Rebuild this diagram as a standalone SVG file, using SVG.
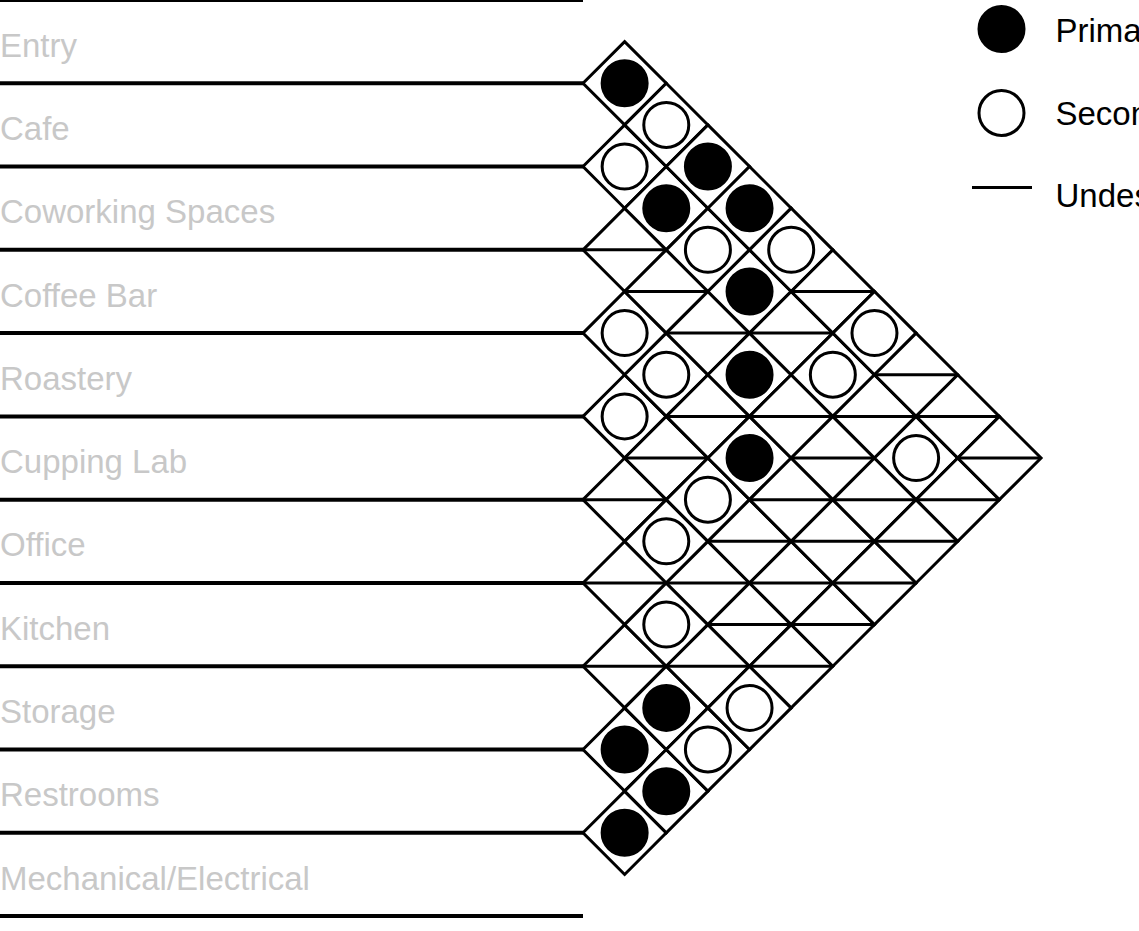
<svg xmlns="http://www.w3.org/2000/svg" width="1139" height="931" viewBox="0 0 1139 931">
<style>
.lbl{font-family:"Liberation Sans",Arial,sans-serif;font-size:33px;fill:#c8c8c8}
.leg{font-family:"Liberation Sans",Arial,sans-serif;font-size:33px;fill:#000}
.rule{stroke:#000;stroke-width:4}
.dia{fill:#fff;stroke:#000;stroke-width:3;stroke-linejoin:miter}
.p{fill:#000;stroke:#000;stroke-width:3}
.s{fill:#fff;stroke:#000;stroke-width:3}
.u{stroke:#000;stroke-width:3}
</style>
<defs>
<polygon id="cell" class="dia" points="-41.64,0 0,-41.64 41.64,0 0,41.64"/>
<circle id="P" class="p" r="22.5"/>
<circle id="S" class="s" r="22.5"/>
<line id="U" class="u" x1="-41.64" y1="0" x2="41.64" y2="0"/>
</defs>
<rect width="1139" height="931" fill="#fff"/>
<g id="rows">
<g id="row-entry"><line class="rule" x1="0" y1="0" x2="583" y2="0"/><text class="lbl" x="0" y="56.7">Entry</text></g>
<g id="row-cafe"><line class="rule" x1="0" y1="83.28" x2="583" y2="83.28"/><text class="lbl" x="0" y="140">Cafe</text></g>
<g id="row-coworking"><line class="rule" x1="0" y1="166.56" x2="583" y2="166.56"/><text class="lbl" x="0" y="223.3">Coworking Spaces</text></g>
<g id="row-coffeebar"><line class="rule" x1="0" y1="249.84" x2="583" y2="249.84"/><text class="lbl" x="0" y="306.6">Coffee Bar</text></g>
<g id="row-roastery"><line class="rule" x1="0" y1="333.12" x2="583" y2="333.12"/><text class="lbl" x="0" y="389.9">Roastery</text></g>
<g id="row-cupping"><line class="rule" x1="0" y1="416.4" x2="583" y2="416.4"/><text class="lbl" x="0" y="473.1">Cupping Lab</text></g>
<g id="row-office"><line class="rule" x1="0" y1="499.68" x2="583" y2="499.68"/><text class="lbl" x="0" y="556.4">Office</text></g>
<g id="row-kitchen"><line class="rule" x1="0" y1="582.96" x2="583" y2="582.96"/><text class="lbl" x="0" y="639.7">Kitchen</text></g>
<g id="row-storage"><line class="rule" x1="0" y1="666.24" x2="583" y2="666.24"/><text class="lbl" x="0" y="723">Storage</text></g>
<g id="row-restrooms"><line class="rule" x1="0" y1="749.52" x2="583" y2="749.52"/><text class="lbl" x="0" y="806.3">Restrooms</text></g>
<g id="row-mech"><line class="rule" x1="0" y1="832.8" x2="583" y2="832.8"/><text class="lbl" x="0" y="889.5">Mechanical/Electrical</text></g>
<line class="rule" x1="0" y1="916.08" x2="583" y2="916.08"/>
</g>
<g id="matrix">
<g id="c0-1" transform="translate(624.64,83.28)"><use href="#cell"/><use href="#P"/></g>
<g id="c1-2" transform="translate(624.64,166.56)"><use href="#cell"/><use href="#S"/></g>
<g id="c2-3" transform="translate(624.64,249.84)"><use href="#cell"/><use href="#U"/></g>
<g id="c3-4" transform="translate(624.64,333.12)"><use href="#cell"/><use href="#S"/></g>
<g id="c4-5" transform="translate(624.64,416.4)"><use href="#cell"/><use href="#S"/></g>
<g id="c5-6" transform="translate(624.64,499.68)"><use href="#cell"/><use href="#U"/></g>
<g id="c6-7" transform="translate(624.64,582.96)"><use href="#cell"/><use href="#U"/></g>
<g id="c7-8" transform="translate(624.64,666.24)"><use href="#cell"/><use href="#U"/></g>
<g id="c8-9" transform="translate(624.64,749.52)"><use href="#cell"/><use href="#P"/></g>
<g id="c9-10" transform="translate(624.64,832.8)"><use href="#cell"/><use href="#P"/></g>

<g id="c0-2" transform="translate(666.28,124.92)"><use href="#cell"/><use href="#S"/></g>
<g id="c1-3" transform="translate(666.28,208.2)"><use href="#cell"/><use href="#P"/></g>
<g id="c2-4" transform="translate(666.28,291.48)"><use href="#cell"/><use href="#U"/></g>
<g id="c3-5" transform="translate(666.28,374.76)"><use href="#cell"/><use href="#S"/></g>
<g id="c4-6" transform="translate(666.28,458.04)"><use href="#cell"/><use href="#U"/></g>
<g id="c5-7" transform="translate(666.28,541.32)"><use href="#cell"/><use href="#S"/></g>
<g id="c6-8" transform="translate(666.28,624.6)"><use href="#cell"/><use href="#S"/></g>
<g id="c7-9" transform="translate(666.28,707.88)"><use href="#cell"/><use href="#P"/></g>
<g id="c8-10" transform="translate(666.28,791.16)"><use href="#cell"/><use href="#P"/></g>

<g id="c0-3" transform="translate(707.92,166.56)"><use href="#cell"/><use href="#P"/></g>
<g id="c1-4" transform="translate(707.92,249.84)"><use href="#cell"/><use href="#S"/></g>
<g id="c2-5" transform="translate(707.92,333.12)"><use href="#cell"/><use href="#U"/></g>
<g id="c3-6" transform="translate(707.92,416.4)"><use href="#cell"/><use href="#U"/></g>
<g id="c4-7" transform="translate(707.92,499.68)"><use href="#cell"/><use href="#S"/></g>
<g id="c5-8" transform="translate(707.92,582.96)"><use href="#cell"/><use href="#U"/></g>
<g id="c6-9" transform="translate(707.92,666.24)"><use href="#cell"/><use href="#U"/></g>
<g id="c7-10" transform="translate(707.92,749.52)"><use href="#cell"/><use href="#S"/></g>

<g id="c0-4" transform="translate(749.56,208.2)"><use href="#cell"/><use href="#P"/></g>
<g id="c1-5" transform="translate(749.56,291.48)"><use href="#cell"/><use href="#P"/></g>
<g id="c2-6" transform="translate(749.56,374.76)"><use href="#cell"/><use href="#P"/></g>
<g id="c3-7" transform="translate(749.56,458.04)"><use href="#cell"/><use href="#P"/></g>
<g id="c4-8" transform="translate(749.56,541.32)"><use href="#cell"/><use href="#U"/></g>
<g id="c5-9" transform="translate(749.56,624.6)"><use href="#cell"/><use href="#U"/></g>
<g id="c6-10" transform="translate(749.56,707.88)"><use href="#cell"/><use href="#S"/></g>

<g id="c0-5" transform="translate(791.2,249.84)"><use href="#cell"/><use href="#S"/></g>
<g id="c1-6" transform="translate(791.2,333.12)"><use href="#cell"/><use href="#U"/></g>
<g id="c2-7" transform="translate(791.2,416.4)"><use href="#cell"/><use href="#U"/></g>
<g id="c3-8" transform="translate(791.2,499.68)"><use href="#cell"/><use href="#U"/></g>
<g id="c4-9" transform="translate(791.2,582.96)"><use href="#cell"/><use href="#U"/></g>
<g id="c5-10" transform="translate(791.2,666.24)"><use href="#cell"/><use href="#U"/></g>

<g id="c0-6" transform="translate(832.84,291.48)"><use href="#cell"/><use href="#U"/></g>
<g id="c1-7" transform="translate(832.84,374.76)"><use href="#cell"/><use href="#S"/></g>
<g id="c2-8" transform="translate(832.84,458.04)"><use href="#cell"/><use href="#U"/></g>
<g id="c3-9" transform="translate(832.84,541.32)"><use href="#cell"/><use href="#U"/></g>
<g id="c4-10" transform="translate(832.84,624.6)"><use href="#cell"/><use href="#U"/></g>

<g id="c0-7" transform="translate(874.48,333.12)"><use href="#cell"/><use href="#S"/></g>
<g id="c1-8" transform="translate(874.48,416.4)"><use href="#cell"/><use href="#U"/></g>
<g id="c2-9" transform="translate(874.48,499.68)"><use href="#cell"/><use href="#U"/></g>
<g id="c3-10" transform="translate(874.48,582.96)"><use href="#cell"/><use href="#U"/></g>

<g id="c0-8" transform="translate(916.12,374.76)"><use href="#cell"/><use href="#U"/></g>
<g id="c1-9" transform="translate(916.12,458.04)"><use href="#cell"/><use href="#S"/></g>
<g id="c2-10" transform="translate(916.12,541.32)"><use href="#cell"/><use href="#U"/></g>

<g id="c0-9" transform="translate(957.76,416.4)"><use href="#cell"/><use href="#U"/></g>
<g id="c1-10" transform="translate(957.76,499.68)"><use href="#cell"/><use href="#U"/></g>

<g id="c0-10" transform="translate(999.4,458.04)"><use href="#cell"/><use href="#U"/></g>
</g>
<g id="legend">
<g id="legend-primary"><circle class="p" cx="1001.5" cy="29" r="22.5"/><text class="leg" x="1055.5" y="42">Primary</text></g>
<g id="legend-secondary"><circle class="s" cx="1001.5" cy="113" r="22.5"/><text class="leg" x="1055.5" y="125">Secondary</text></g>
<g id="legend-undesirable"><line class="u" x1="972" y1="187.5" x2="1032" y2="187.5"/><text class="leg" x="1055.5" y="207">Undesirable</text></g>
</g>
</svg>
